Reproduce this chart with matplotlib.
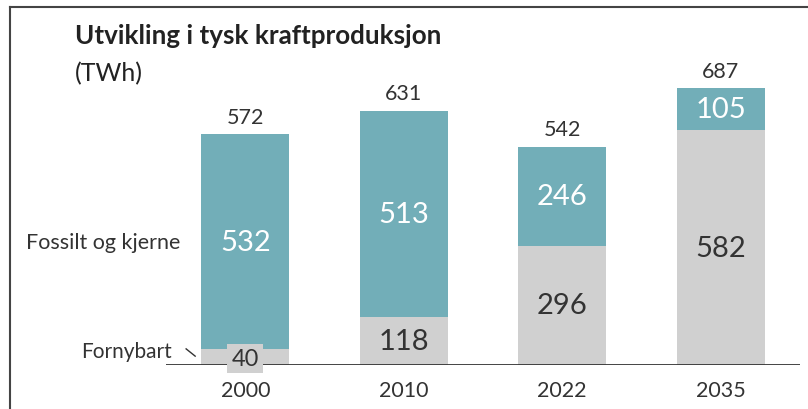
import matplotlib.pyplot as plt
from matplotlib.lines import Line2D

plt.rcParams['font.family'] = ['Lato', 'DejaVu Sans']

years = ['2000', '2010', '2022', '2035']
fornybart = [40, 118, 296, 582]
fossilt = [532, 513, 246, 105]
totals = [572, 631, 542, 687]

teal = '#72AEB8'
grey = '#D0D0D0'
dark = '#333333'

fig = plt.figure(figsize=(8.08, 4.10), dpi=100)
ax = fig.add_axes([166 / 808, 44 / 410, 634 / 808, 316 / 410])

x = range(len(years))
w = 0.557
ax.bar(x, fornybart, width=w, color=grey, zorder=2)
ax.bar(x, fossilt, bottom=fornybart, width=w, color=teal, zorder=2)

ax.set_xlim(-0.5, 3.5)
ax.set_ylim(0, 316 / 0.403)

for i in x:
    # fossilt og kjerne label (white)
    ax.text(i, fornybart[i] + fossilt[i] / 2, str(fossilt[i]), ha='center', va='center',
            fontsize=21, color='white', zorder=3)
    # fornybart label
    if fornybart[i] < 80:
        ax.text(i, fornybart[i] / 2 - 4, str(fornybart[i]), ha='center', va='center',
                fontsize=17, color=dark, zorder=5,
                bbox=dict(boxstyle='square,pad=0.18', fc=grey, ec='none'))
    else:
        ax.text(i, fornybart[i] / 2, str(fornybart[i]), ha='center', va='center',
                fontsize=21, color=dark, zorder=3)
    # total
    ax.text(i, totals[i] + 18, str(totals[i]), ha='center', va='bottom',
            fontsize=15.5, color=dark, zorder=3)

for s in ax.spines.values():
    s.set_visible(False)
ax.axhline(0, color='#333333', lw=2, zorder=4)
ax.set_yticks([])
ax.set_xticks(list(x))
ax.set_xticklabels(years, fontsize=15.5, color=dark)
ax.tick_params(axis='x', length=0, pad=11)

# series labels on the left
ax.text(-0.41, fornybart[0] + fossilt[0] / 2, 'Fossilt og kjerne', ha='right', va='center',
        fontsize=15.5, color=dark)
ax.text(-0.46, 35, 'Fornybart', ha='right', va='center',
        fontsize=15, color=dark)
ax.add_line(Line2D([-0.373, -0.316], [40, 22], color=dark, lw=1, clip_on=False))

# title
fig.text(75 / 808, 1 - 36 / 410, 'Utvikling i tysk kraftproduksjon', ha='left', va='center',
         fontsize=18.7, fontweight='bold', color='#222222')
fig.text(75 / 808, 1 - 74 / 410, '(TWh)', ha='left', va='center',
         fontsize=18, color='#222222')

# frame: top and left
fig.add_artist(Line2D([10 / 808, 1], [1 - 8 / 410, 1 - 8 / 410], color='#444444', lw=1.5))
fig.add_artist(Line2D([10 / 808, 10 / 808], [0, 1 - 8 / 410], color='#444444', lw=1.5))

fig.savefig('out.png', dpi=100)
